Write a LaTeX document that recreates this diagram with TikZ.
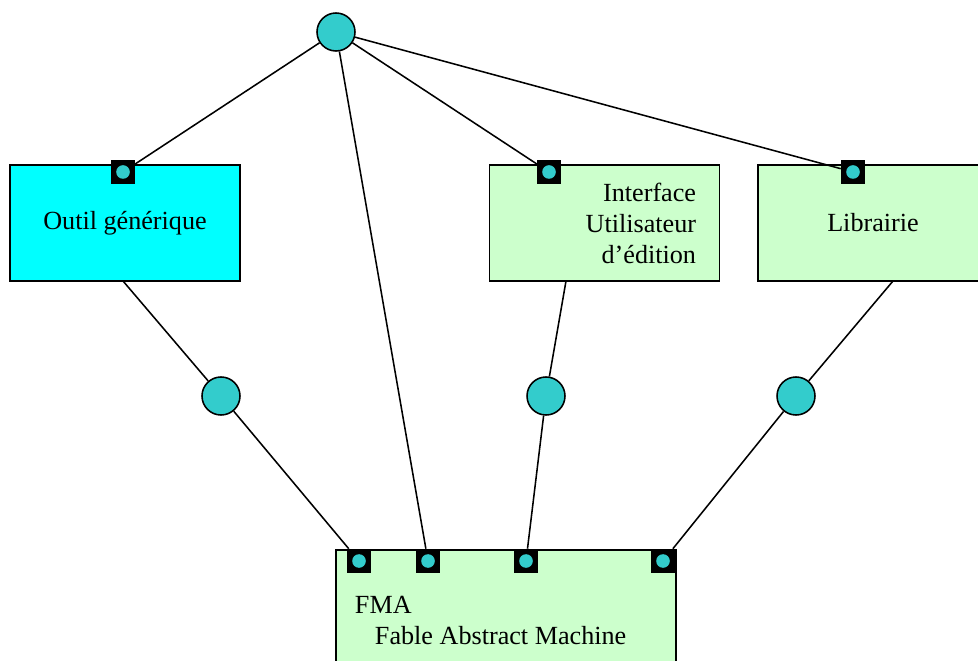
\documentclass[tikz,border=0pt]{standalone}
\usepackage{fontspec}
\setmainfont{Liberation Serif}
\usetikzlibrary{positioning}
\definecolor{dotcyan}{RGB}{51,204,204}
\definecolor{toolcyan}{RGB}{0,255,255}
\definecolor{boxgreen}{RGB}{204,255,204}

\begin{document}
\begin{tikzpicture}[x=0.025cm,y=-0.025cm,
        font=\fontsize{18.6}{22}\selectfont,
        conn/.style={draw=black,line width=1.1pt},
        hub/.style={circle,draw=black,line width=1.1pt,fill=dotcyan,
            minimum size=0.95cm,inner sep=0pt},
        port/.style={fill=black,minimum size=0.6cm,inner sep=0pt,
            path picture={\fill[dotcyan] (path picture bounding box.center)
                circle (0.17cm);}},
        comp/.style={draw=black,line width=1.1pt,minimum width=5.75cm,
            minimum height=2.9cm,inner sep=0pt},
        toolbox/.style={comp,fill=toolcyan},
        greenbox/.style={comp,fill=boxgreen}
    ]
\useasboundingbox (0,0) rectangle (978,661);
% components
\node[toolbox] (outil) at (125,223) {Outil générique};
\node[greenbox] (interface) at (604.5,223) {};
\node[greenbox] (librairie) at (873,223) {Librairie};
\node[anchor=east,align=right] (interfacetxt) at (701,223)
    {Interface\\Utilisateur\\d’édition};
\node[draw=black,line width=1.1pt,fill=boxgreen,anchor=north west,
    minimum width=8.5cm,minimum height=4cm] (fma) at (335,549) {};
\node[anchor=north west,align=left] (fmatxt) at (350,591)
    {FMA\\\hspace{0.5cm}Fable Abstract Machine};
% ports
\node[port] (poutil) at (123,172) {};
\node[port] (pinterface) at (549,172) {};
\node[port] (plibrairie) at (853,172) {};
\node[port] (pfma1) at (359,561) {};
\node[port] (pfma2) at (428,561) {};
\node[port] (pfma3) at (526,561) {};
\node[port] (pfma4) at (663,561) {};
% hubs
\node[hub] (top) at (336,32) {};
\node[hub] (hub1) at (221,396) {};
\node[hub] (hub2) at (546,396) {};
\node[hub] (hub3) at (796,396) {};
\coordinate (outilout) at (123,281);
\coordinate (interfaceout) at (566,281);
\coordinate (librairieout) at (893,281);
% connectors
\draw[conn] (top) -- (poutil);
\draw[conn] (top) -- (pfma2);
\draw[conn] (top) -- (pinterface);
\draw[conn] (top) -- (plibrairie);
\draw[conn] (outilout) -- (hub1);
\draw[conn] (hub1) -- (pfma1);
\draw[conn] (interfaceout) -- (hub2);
\draw[conn] (hub2) -- (pfma3);
\draw[conn] (librairieout) -- (hub3);
\draw[conn] (hub3) -- (pfma4);
\end{tikzpicture}
\end{document}
